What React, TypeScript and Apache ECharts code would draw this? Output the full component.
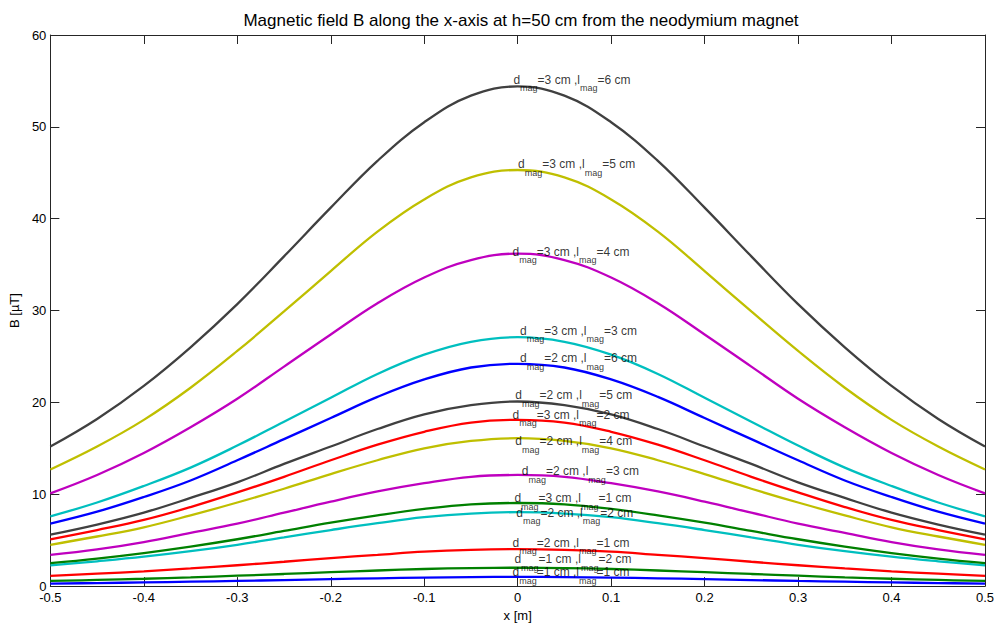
import React, { useEffect, useRef } from "react";
import * as echarts from "echarts";

// x positions (m)
const xs = [-0.5, -0.45, -0.4, -0.35, -0.3, -0.25, -0.2, -0.15, -0.1, -0.05, 0, 0.05, 0.1, 0.15, 0.2, 0.25, 0.3, 0.35, 0.4, 0.45, 0.5];

// B [µT] for each magnet (d = diameter, l = length)
const b_d1_l1 = [0.28, 0.33, 0.4, 0.48, 0.56, 0.66, 0.76, 0.85, 0.93, 0.98, 1.0, 0.98, 0.93, 0.85, 0.76, 0.66, 0.56, 0.48, 0.4, 0.33, 0.28];
const b_d1_l2 = [0.56, 0.67, 0.8, 0.95, 1.13, 1.32, 1.52, 1.7, 1.86, 1.96, 2.0, 1.96, 1.86, 1.7, 1.52, 1.32, 1.13, 0.95, 0.8, 0.67, 0.56];
const b_d2_l1 = [1.12, 1.35, 1.61, 1.92, 2.27, 2.65, 3.05, 3.4, 3.75, 3.95, 4.02, 3.95, 3.75, 3.4, 3.05, 2.65, 2.27, 1.92, 1.61, 1.35, 1.12];
const b_d2_l2 = [2.25, 2.7, 3.2, 3.8, 4.5, 5.3, 6.1, 6.85, 7.5, 7.9, 8.05, 7.9, 7.5, 6.85, 6.1, 5.3, 4.5, 3.8, 3.2, 2.7, 2.25];
const b_d2_l3 = [3.4, 4.0, 4.8, 5.8, 6.8, 8.0, 9.2, 10.3, 11.2, 11.9, 12.1, 11.9, 11.2, 10.3, 9.2, 8.0, 6.8, 5.8, 4.8, 4.0, 3.4];
const b_d2_l4 = [4.5, 5.4, 6.4, 7.7, 9.1, 10.6, 12.2, 13.7, 15.0, 15.8, 16.1, 15.8, 15.0, 13.7, 12.2, 10.6, 9.1, 7.7, 6.4, 5.4, 4.5];
const b_d2_l5 = [5.6, 6.7, 8.0, 9.6, 11.3, 13.3, 15.2, 17.1, 18.7, 19.7, 20.1, 19.7, 18.7, 17.1, 15.2, 13.3, 11.3, 9.6, 8.0, 6.7, 5.6];
const b_d2_l6 = [6.8, 8.1, 9.7, 11.5, 13.7, 16.0, 18.3, 20.6, 22.5, 23.8, 24.2, 23.8, 22.5, 20.6, 18.3, 16.0, 13.7, 11.5, 9.7, 8.1, 6.8];
const b_d3_l1 = [2.5, 3.0, 3.6, 4.3, 5.1, 6.0, 6.9, 7.7, 8.4, 8.9, 9.05, 8.9, 8.4, 7.7, 6.9, 6.0, 5.1, 4.3, 3.6, 3.0, 2.5];
const b_d3_l2 = [5.1, 6.1, 7.2, 8.6, 10.2, 11.9, 13.7, 15.4, 16.8, 17.8, 18.1, 17.8, 16.8, 15.4, 13.7, 11.9, 10.2, 8.6, 7.2, 6.1, 5.1];
const b_d3_l3 = [7.6, 9.1, 10.9, 12.9, 15.3, 17.9, 20.5, 23.1, 25.2, 26.6, 27.1, 26.6, 25.2, 23.1, 20.5, 17.9, 15.3, 12.9, 10.9, 9.1, 7.6];
const b_d3_l4 = [10.1, 12.1, 14.5, 17.3, 20.4, 23.9, 27.4, 30.8, 33.6, 35.5, 36.2, 35.5, 33.6, 30.8, 27.4, 23.9, 20.4, 17.3, 14.5, 12.1, 10.1];
const b_d3_l5 = [12.7, 15.2, 18.1, 21.6, 25.6, 29.9, 34.3, 38.6, 42.1, 44.5, 45.3, 44.5, 42.1, 38.6, 34.3, 29.9, 25.6, 21.6, 18.1, 15.2, 12.7];
const b_d3_l6 = [15.2, 18.2, 21.8, 26.0, 30.7, 35.9, 41.2, 46.3, 50.5, 53.4, 54.4, 53.4, 50.5, 46.3, 41.2, 35.9, 30.7, 26.0, 21.8, 18.2, 15.2];

const allSeries = [b_d1_l1, b_d1_l2, b_d2_l1, b_d2_l2, b_d2_l3, b_d2_l4, b_d2_l5, b_d2_l6, b_d3_l1, b_d3_l2, b_d3_l3, b_d3_l4, b_d3_l5, b_d3_l6];
const labelD = [1, 1, 2, 2, 2, 2, 2, 2, 3, 3, 3, 3, 3, 3];
const labelL = [1, 2, 1, 2, 3, 4, 5, 6, 1, 2, 3, 4, 5, 6];
// text annotation anchors (data coords)
const labelX = [-0.005, -0.003, -0.005, -0.001, 0.005, -0.002, -0.002, 0.003, -0.003, -0.005, 0.003, -0.005, 0.001, -0.004];
const labelY = [2.1, 3.5, 5.33, 8.56, 13.12, 16.35, 21.38, 25.4, 10.18, 19.23, 28.39, 37.0, 46.5, 55.75];

const colorCycle = ["#0000ff", "#008000", "#ff0000", "#00bfbf", "#bf00bf", "#bfbf00", "#404040"];

const FONT = "'Liberation Sans', Arial, Helvetica, sans-serif";
const AXIS_COLOR = "#262626";

export default function App() {
  const ref = useRef<HTMLDivElement>(null);
  useEffect(() => {
    if (!ref.current) return;
    const chart = echarts.init(ref.current, undefined, { renderer: "svg" });
    const lineSeries = allSeries.map((vals, i) => ({
      type: "line",
      name: `d=${labelD[i]} cm, l=${labelL[i]} cm`,
      data: xs.map((x, j) => [x, vals[j]]),
      smooth: 0.4,
      showSymbol: false,
      silent: true,
      lineStyle: { color: colorCycle[i % colorCycle.length], width: 2.3 },
      itemStyle: { color: colorCycle[i % colorCycle.length] },
      xAxisIndex: 0,
      yAxisIndex: 0,
      z: 2,
    }));
    const labelSeries = {
      type: "scatter",
      silent: true,
      symbolSize: 1,
      itemStyle: { color: "rgba(0,0,0,0)" },
      data: labelX.map((x, i) => [x, labelY[i]]),
      xAxisIndex: 0,
      yAxisIndex: 0,
      z: 5,
      label: {
        show: true,
        position: [0, 0],
        align: "left",
        verticalAlign: "top",
        formatter: (p: any) =>
          `{m|d}{s|mag}{m|=${labelD[p.dataIndex]} cm ,l}{s|mag}{m|=${labelL[p.dataIndex]} cm}`,
        rich: {
          m: { fontSize: 12, lineHeight: 13, verticalAlign: "top", color: "#000", fontFamily: FONT },
          s: { fontSize: 9, lineHeight: 19, verticalAlign: "bottom", color: "#000", fontFamily: FONT },
        },
      },
    };
    const baseX = {
      type: "value",
      min: -0.5,
      max: 0.5,
      interval: 0.1,
      splitLine: { show: false },
      axisLine: { show: true, onZero: false, lineStyle: { color: AXIS_COLOR, width: 1 } },
      axisTick: { show: true, inside: true, length: 9, lineStyle: { color: AXIS_COLOR } },
    };
    const baseY = {
      type: "value",
      min: 0,
      max: 60,
      interval: 10,
      splitLine: { show: false },
      axisLine: { show: true, onZero: false, lineStyle: { color: AXIS_COLOR, width: 1 } },
      axisTick: { show: true, inside: true, length: 9, lineStyle: { color: AXIS_COLOR } },
    };
    chart.setOption({
      animation: false,
      backgroundColor: "#ffffff",
      textStyle: { fontFamily: FONT },
      title: {
        text: "Magnetic field B along the x-axis at h=50 cm from the neodymium magnet",
        left: 516,
        top: 7,
        textAlign: "center",
        textStyle: { fontSize: 17, fontWeight: "normal", color: "#000", fontFamily: FONT },
      },
      grid: { left: 47, right: 13, top: 35, bottom: 35, containLabel: false },
      xAxis: [
        {
          ...baseX,
          position: "bottom",
          name: "x [m]",
          nameLocation: "middle",
          nameGap: 20,
          nameTextStyle: { fontSize: 13, color: "#000", fontFamily: FONT },
          axisLabel: { show: true, fontSize: 13, color: "#000", margin: 5, fontFamily: FONT },
        },
        { ...baseX, position: "top", axisLabel: { show: false } },
      ],
      yAxis: [
        {
          ...baseY,
          position: "left",
          name: "B [µT]",
          nameLocation: "middle",
          nameGap: 22,
          nameRotate: 90,
          nameTextStyle: { fontSize: 13, color: "#000", fontFamily: FONT },
          axisLabel: { show: true, fontSize: 13, color: "#000", margin: 4, fontFamily: FONT },
        },
        { ...baseY, position: "right", axisLabel: { show: false } },
      ],
      series: [...lineSeries, labelSeries],
    });
    return () => chart.dispose();
  }, []);
  return (
    <div
      ref={ref}
      style={{ position: "absolute", left: 0, top: 0, width: 998, height: 627, background: "#fff" }}
    />
  );
}
